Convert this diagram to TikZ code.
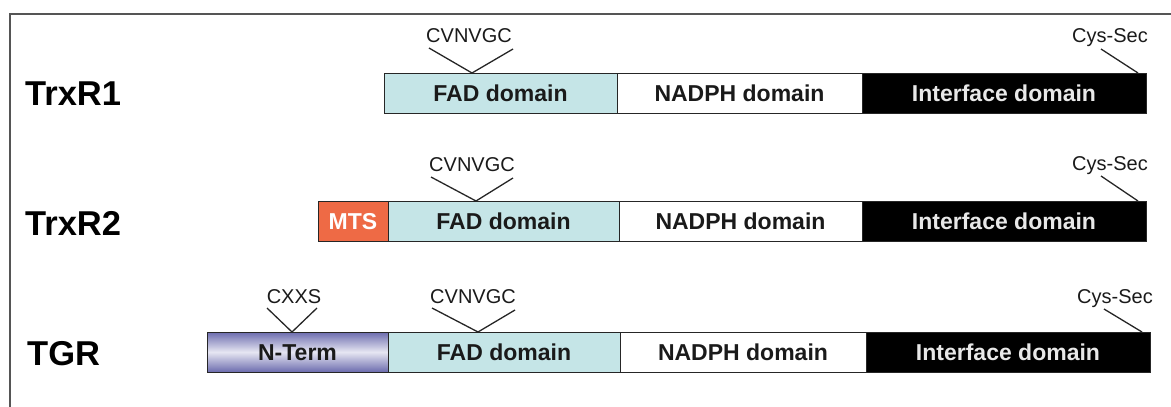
\documentclass[tikz,border=0pt]{standalone}
\usepackage{fontspec}
\setmainfont{Liberation Sans}
\usetikzlibrary{calc}

\definecolor{fadcol}{HTML}{C5E5E7}
\definecolor{mtscol}{HTML}{EE6A45}
\definecolor{ntdark}{HTML}{6C6CAE}
\definecolor{ntlight}{HTML}{E6E6F2}
\definecolor{framecol}{HTML}{555555}
\definecolor{inktext}{HTML}{1A1A1A}
\definecolor{iftext}{HTML}{E8E8E8}

\tikzset{
  dombox/.style={draw=black!85, line width=0.9pt, inner sep=0pt, outer sep=0pt,
    minimum height=40pt, anchor=north west, text height=16pt, text depth=0pt,
    font=\fontsize{23}{25}\selectfont\bfseries, text=inktext},
  fadbox/.style={dombox, fill=fadcol},
  nadphbox/.style={dombox, fill=white},
  ifbox/.style={dombox, fill=black, text=iftext},
  mtsbox/.style={dombox, fill=mtscol, text=white},
  ntbox/.style={dombox, top color=ntdark, bottom color=ntdark, middle color=ntlight},
  rowlabel/.style={anchor=base west, inner sep=0pt, font=\fontsize{34.5}{36}\selectfont\bfseries},
  motif/.style={anchor=base, inner sep=0pt, font=\fontsize{20}{22}\selectfont, text=inktext},
  marker/.style={line width=1.3pt, draw=black!85},
  frame/.style={line width=1.6pt, draw=framecol}
}

\begin{document}
\begin{tikzpicture}[x=1pt, y=-1pt]
\useasboundingbox (0,0) rectangle (1171,407);

% frame (top and left edges)
\draw[frame] (10,407) |- (1171,14);

% ---------- TrxR1 ----------
\node[rowlabel] (r1) at (25,105) {TrxR1};
\node[fadbox, minimum width=233pt] (fad1) at (384,73) {FAD domain};
\node[nadphbox, minimum width=245pt] (nad1) at (fad1.north east) {NADPH domain};
\node[ifbox, minimum width=284pt] (if1) at (nad1.north east) {Interface domain};
\node[motif] (cv1) at (469,42) {CVNVGC};
\node[motif] (cs1) at (1110,42) {Cys-Sec};
\coordinate (v1) at ($(fad1.north west)+(88,0)$);
\draw[marker] ($(v1)+(-43,-25)$) -- (v1) -- ($(v1)+(41,-24)$);
\coordinate (c1) at ($(if1.north east)+(-8,0)$);
\draw[marker] ($(c1)+(-37,-24)$) -- (c1);

% ---------- TrxR2 ----------
\node[rowlabel] (r2) at (25,235) {TrxR2};
\node[mtsbox, minimum width=70pt] (mts2) at (318,201) {MTS};
\node[fadbox, minimum width=231pt] (fad2) at (mts2.north east) {FAD domain};
\node[nadphbox, minimum width=243pt] (nad2) at (fad2.north east) {NADPH domain};
\node[ifbox, minimum width=284pt] (if2) at (nad2.north east) {Interface domain};
\node[motif] (cv2) at (472,171) {CVNVGC};
\node[motif] (cs2) at (1110,170) {Cys-Sec};
\coordinate (v2) at ($(fad2.north west)+(88,0)$);
\draw[marker] ($(v2)+(-45,-24)$) -- (v2) -- ($(v2)+(37,-23)$);
\coordinate (c2) at ($(if2.north east)+(-8,0)$);
\draw[marker] ($(c2)+(-37,-25)$) -- (c2);

% ---------- TGR ----------
\node[rowlabel] (r3) at (27,365) {TGR};
\node[ntbox, minimum width=181pt] (nt3) at (207,332) {N-Term};
\node[fadbox, minimum width=232pt] (fad3) at (nt3.north east) {FAD domain};
\node[nadphbox, minimum width=246pt] (nad3) at (fad3.north east) {NADPH domain};
\node[ifbox, minimum width=284pt] (if3) at (nad3.north east) {Interface domain};
\node[motif] (cx3) at (294,303) {CXXS};
\node[motif] (cv3) at (473,303) {CVNVGC};
\node[motif] (cs3) at (1115,303) {Cys-Sec};
\coordinate (x3) at ($(nt3.north west)+(85,0)$);
\draw[marker] ($(x3)+(-25,-24)$) -- (x3) -- ($(x3)+(25,-24)$);
\coordinate (v3) at ($(fad3.north west)+(90,0)$);
\draw[marker] ($(v3)+(-46,-24)$) -- (v3) -- ($(v3)+(37,-22)$);
\coordinate (c3) at ($(if3.north east)+(-8,0)$);
\draw[marker] ($(c3)+(-38,-23)$) -- (c3);
\end{tikzpicture}
\end{document}
